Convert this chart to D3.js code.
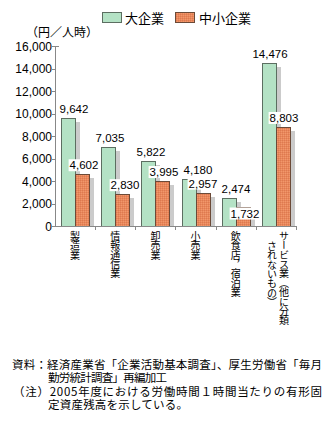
<!DOCTYPE html>
<html><head><meta charset="utf-8">
<script src="https://cdn.jsdelivr.net/npm/d3@7"></script>
<style>
html,body{margin:0;padding:0;background:#fff;}
svg{display:block;}
text{font-family:"Noto Sans CJK JP","Liberation Sans",sans-serif;fill:#000;}
.num{font-family:"Liberation Sans","Noto Sans",sans-serif;}
</style></head>
<body>
<script>
// ---- data ----
const categories = ["製造業","情報通信業","卸売業","小売業","飲食店，宿泊業","サービス業（他に分類されないもの）"];
const categoryLines = [["製造業"],["情報通信業"],["卸売業"],["小売業"],["飲食店，宿泊業"],["サービス業（他に分類","されないもの）"]];
const seriesNames = ["大企業","中小企業"];
const largeValues = [9642,7035,5822,4180,2474,14476];
const smeValues = [4602,2830,3995,2957,1732,8803];
const yTicks = [0,2000,4000,6000,8000,10000,12000,14000,16000];
const unitLabel = "（円／人時）";
const notes = [
  "資料：経済産業省「企業活動基本調査」、厚生労働省「毎月",
  "勤労統計調査」再編加工",
  "（注）2005年度における労働時間１時間当たりの有形固",
  "定資産残高を示している。"
];

// ---- layout ----
const W = 333, H = 422;
const svg = d3.select("body").append("svg").attr("width", W).attr("height", H);
const defs = svg.append("defs");
const pat = defs.append("pattern").attr("id","orangeTex").attr("patternUnits","userSpaceOnUse")
  .attr("width",2).attr("height",2);
pat.append("rect").attr("width",2).attr("height",2).attr("fill","#e9875b");
pat.append("rect").attr("width",1).attr("height",1).attr("fill","#dd7a50");
pat.append("rect").attr("x",1).attr("y",1).attr("width",1).attr("height",1).attr("fill","#f0986c");

const x0 = d3.scaleBand().domain(categories).range([55, 296]).paddingInner(0).paddingOuter(0);
const y = d3.scaleLinear().domain([0, 16000]).range([226, 46]);
const barW = 14, barOff = 6, shX = 5, shY = 4;
const fills = ["#b4e2c5", "url(#orangeTex)"];
const strokes = ["#5c6e61", "#6b4a38"];
const series = [largeValues, smeValues];
const fmt = d3.format(",");

// legend
const leg = svg.append("g");
[[102,125],[175,199]].forEach((p,i)=>{
  leg.append("rect").attr("x",p[0]+0.5).attr("y",12.5).attr("width",19).attr("height",10)
    .attr("fill",fills[i]).attr("stroke",strokes[i]);
  leg.append("text").attr("x",p[1]).attr("y",22.5).attr("font-size",13).text(seriesNames[i]);
});

// unit label
svg.append("text").attr("x",26).attr("y",37).attr("font-size",12).text(unitLabel);

// y axis
const ya = svg.append("g");
ya.append("line").attr("x1",55.5).attr("x2",55.5).attr("y1",y(16000)).attr("y2",y(0)+0.5).attr("stroke","#888");
ya.append("line").attr("x1",55).attr("x2",59).attr("y1",y(16000)+0.5).attr("y2",y(16000)+0.5).attr("stroke","#888");
yTicks.forEach(t=>{
  ya.append("line").attr("x1",52).attr("x2",55).attr("y1",Math.round(y(t))+0.5).attr("y2",Math.round(y(t))+0.5).attr("stroke","#888");
  ya.append("text").attr("class","num").attr("x",52).attr("y",y(t)+4.5).attr("text-anchor","end")
    .attr("font-size",12).text(fmt(t));
});

// shadows then bars
const gS = svg.append("g"), gB = svg.append("g");
categories.forEach((c,ci)=>{
  series.forEach((s,si)=>{
    const bx = Math.round(x0(c)) + barOff + si*barW;
    const by = Math.round(y(s[ci]));
    gS.append("rect").attr("x",bx+shX).attr("y",by+shY).attr("width",barW).attr("height",y(0)-by-shY)
      .attr("fill","#cbcbcb");
  });
});
categories.forEach((c,ci)=>{
  series.forEach((s,si)=>{
    const bx = Math.round(x0(c)) + barOff + si*barW;
    const by = Math.round(y(s[ci]));
    gB.append("rect").attr("x",bx+0.5).attr("y",by+0.5).attr("width",barW).attr("height",y(0)-by)
      .attr("fill",fills[si]).attr("stroke",strokes[si]);
  });
});

// x axis
const xa = svg.append("g");
xa.append("line").attr("x1",55).attr("x2",297).attr("y1",226.5).attr("y2",226.5).attr("stroke","#888");
categories.forEach(c=>{
  const tx = Math.round(x0(c) + x0.bandwidth()) + 0.5;
  xa.append("line").attr("x1",tx).attr("x2",tx).attr("y1",226).attr("y2",230).attr("stroke","#888");
});

// value labels
const labelDx = [[6,2,3,9,7,1],[2,3,2,0,2,1]];
const labelDy = [[0,0,0,0,0,0],[0,0,0,0,16,0]];
const gL = svg.append("g");
categories.forEach((c,ci)=>{
  series.forEach((s,si)=>{
    const cx = Math.round(x0(c)) + barOff + si*barW + barW/2 + labelDx[si][ci];
    const base = y(s[ci]) - 5 + labelDy[si][ci];
    const t = gL.append("text").attr("class","num").attr("x",cx).attr("y",base)
      .attr("text-anchor","middle").attr("font-size",11.5).text(fmt(s[ci]));
    const bb = t.node().getBBox();
    gL.append("rect").attr("x",bb.x-1).attr("y",base-10).attr("width",bb.width+2).attr("height",12)
      .attr("fill","#fff");
  });
});
gL.selectAll("text").raise();

// category labels (vertical writing)
const colOffsets = [[0],[0],[0],[0],[0],[8,-4]];
const colTops = [[231],[231],[231],[231],[231],[231,241]];
categoryLines.forEach((lines,ci)=>{
  const cx = x0(categories[ci]) + x0.bandwidth()/2;
  lines.forEach((ln,li)=>{
    svg.append("text").attr("x",cx+colOffsets[ci][li]).attr("y",colTops[ci][li])
      .attr("font-size",10).style("writing-mode","vertical-rl").attr("letter-spacing",-0.6)
      .text(ln);
  });
});

// notes
const noteX = [12,48,13,48], noteY = [369,382,396,409], noteLen = [310,119,309,140];
notes.forEach((n,i)=>{
  svg.append("text").attr("x",noteX[i]).attr("y",noteY[i]).attr("font-size",11.5)
    .attr("textLength",noteLen[i]).attr("lengthAdjust","spacing").text(n);
});
</script>
</body></html>
